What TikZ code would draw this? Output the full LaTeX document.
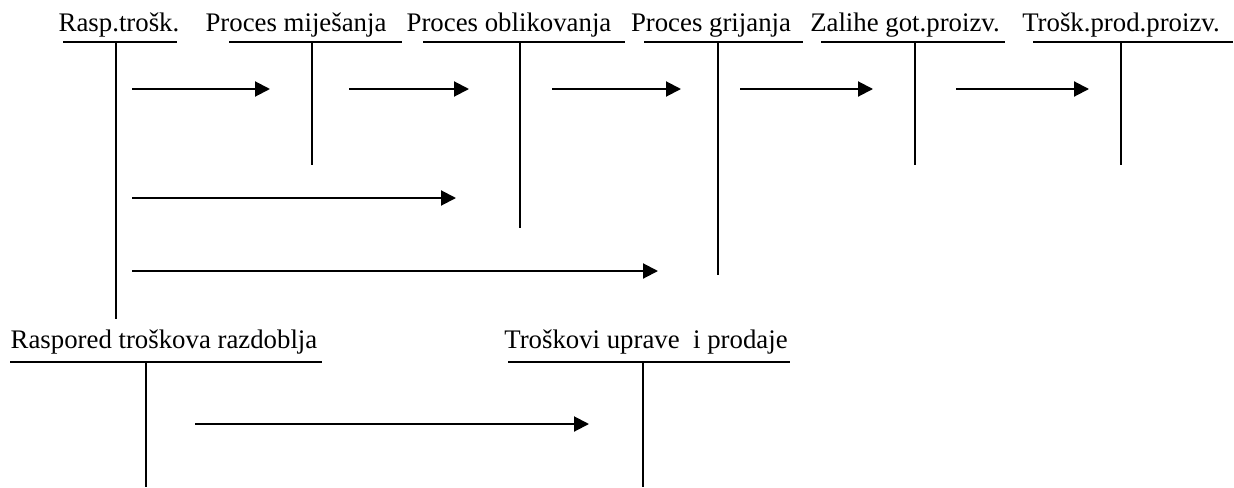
\documentclass[tikz,border=0pt]{standalone}
\usepackage{fontspec}
\setmainfont{Liberation Serif}
\usetikzlibrary{arrows.meta}

\begin{document}
\begin{tikzpicture}[x=0.5pt,y=-0.5pt,
    line width=1pt,
    title/.style={anchor=base, inner sep=0pt, font=\fontsize{13.4}{15}\selectfont},
    flow/.style={-{Triangle[length=7.5pt,width=7.5pt]}}]
    \useasboundingbox (0,0) rectangle (1234,487);

    % Top row of T-accounts
    \node[title] (rasp) at (119,32) {Rasp.trošk.};
    \node[title] (mij) at (296,32) {Proces miješanja};
    \node[title] (obl) at (509,32) {Proces oblikovanja};
    \node[title] (grij) at (711,32) {Proces grijanja};
    \node[title] (zal) at (905,32) {Zalihe got.proizv.};
    \node[title] (prod) at (1121,32) {Trošk.prod.proizv.};

    \draw (63,42) -- (177,42);
    \draw (229,42) -- (402,42);
    \draw (423,42) -- (625,42);
    \draw (644,42) -- (803,42);
    \draw (821,42) -- (1005,42);
    \draw (1033,42) -- (1233,42);

    \draw (116,42) -- (116,319);
    \draw (312,42) -- (312,165);
    \draw (520,42) -- (520,228);
    \draw (718,42) -- (718,275);
    \draw (915,42) -- (915,165);
    \draw (1121,42) -- (1121,165);

    % Bottom row of T-accounts
    \node[title] (razd) at (164,348) {Raspored troškova razdoblja};
    \node[title] (upr) at (646,348) {Troškovi uprave~ i prodaje};

    \draw (10,362) -- (322,362);
    \draw (508,362) -- (790,362);
    \draw (146,362) -- (146,487);
    \draw (643,362) -- (643,487);

    % Transfers between accounts
    \coordinate (a1s) at (132,89);  \coordinate (a1e) at (270,89);
    \coordinate (a2s) at (349,89);  \coordinate (a2e) at (469,89);
    \coordinate (a3s) at (552,89);  \coordinate (a3e) at (681,89);
    \coordinate (a4s) at (740,89);  \coordinate (a4e) at (873,89);
    \coordinate (a5s) at (956,89);  \coordinate (a5e) at (1089,89);
    \coordinate (b1s) at (132,198); \coordinate (b1e) at (456,198);
    \coordinate (c1s) at (132,271); \coordinate (c1e) at (658,271);
    \coordinate (d1s) at (195,424); \coordinate (d1e) at (589,424);

    \draw[flow] (a1s) -- (a1e);
    \draw[flow] (a2s) -- (a2e);
    \draw[flow] (a3s) -- (a3e);
    \draw[flow] (a4s) -- (a4e);
    \draw[flow] (a5s) -- (a5e);
    \draw[flow] (b1s) -- (b1e);
    \draw[flow] (c1s) -- (c1e);
    \draw[flow] (d1s) -- (d1e);
\end{tikzpicture}
\end{document}
